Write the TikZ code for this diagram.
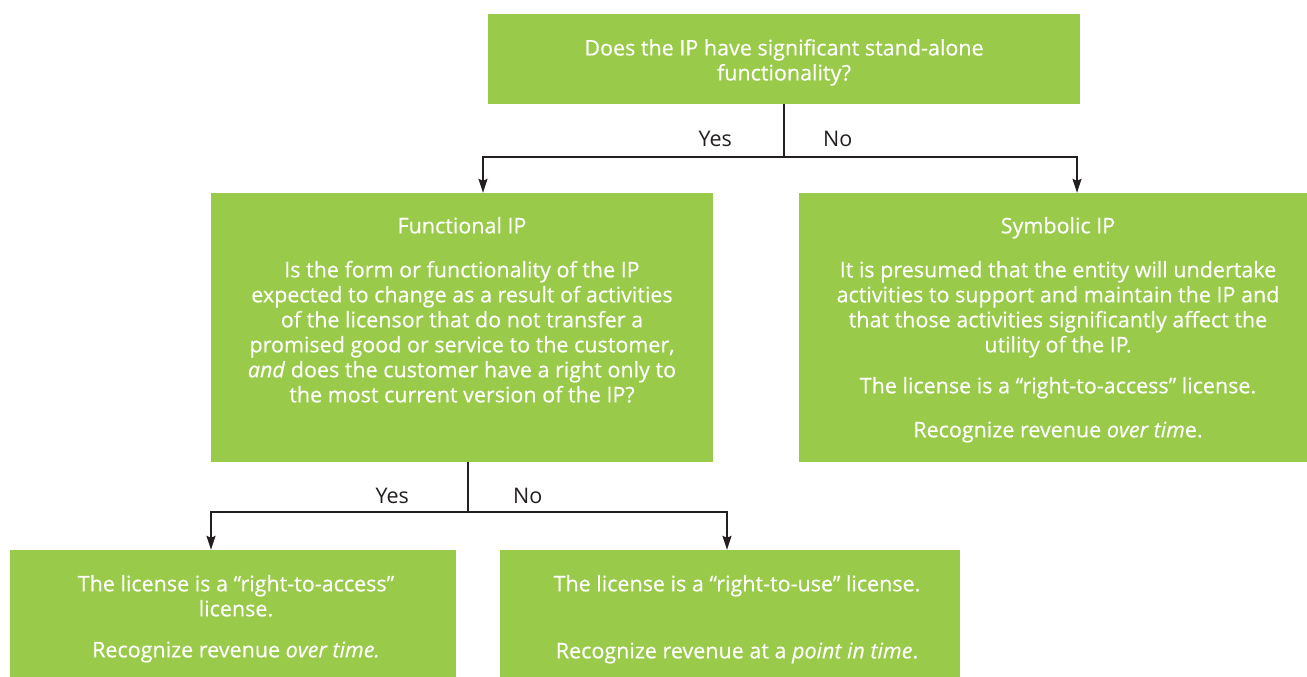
\documentclass[tikz,border=0pt]{standalone}
\usepackage{fontspec}
\setmainfont{Open Sans}
\usepackage{tikz}
\usetikzlibrary{positioning}
\usetikzlibrary{arrows.meta}

\tikzset{
	box/.style={fill=ipgreen, draw=none, inner sep=0pt},
	boxtext/.style={text=white, align=center, inner sep=0pt, font=\fontsize{21.5}{25}\selectfont\addfontfeature{FakeBold=0.4}},
	lbl/.style={text=linegray, inner sep=0pt, font=\fontsize{21.5}{25}\selectfont},
	link/.style={draw=linegray, line width=1.4pt},
	arrow/.style={link, -{Stealth[length=14pt,width=9pt,inset=2pt]}}
}

\begin{document}
\begin{tikzpicture}[x=1pt,y=-1pt]
				\definecolor{ipgreen}{RGB}{153,202,74}
				\definecolor{linegray}{RGB}{35,31,32}
				\useasboundingbox (0,0) rectangle (1307,677);
				
				% top question
				\node[box, minimum width=592pt, minimum height=90pt] (standalone) at (784,59) {};
				\node[boxtext, below=25pt of standalone.north] (standtxt) {Does the IP have significant stand-alone\\functionality?};
				
				% second row
				\node[box, minimum width=502pt, minimum height=269pt] (functional) at (462,327.5) {};
				\node[boxtext, below=24pt of functional.north] (functxt) {Functional IP\\[19pt]
					Is the form or functionality of the IP\\
					expected to change as a result of activities\\
					of the licensor that do not transfer a\\
					promised good or service to the customer,\\
					\textit{and} does the customer have a right only to\\
					the most current version of the IP?};
				
				\node[box, minimum width=508pt, minimum height=269pt] (symbolic) at (1053,327.5) {};
				\node[boxtext, below=24pt of symbolic.north, xshift=5pt] (symtxt) {Symbolic IP\\[19pt]
					It is presumed that the entity will undertake\\
					activities to support and maintain the IP and\\
					that those activities significantly affect the\\
					utility of the IP.\\[16pt]
					The license is a “right-to-access” license.\\[19pt]
					Recognize revenue \textit{over tim}e.};
				
				% bottom row
				\node[box, minimum width=446pt, minimum height=127pt] (access) at (233,613.5) {};
				\node[boxtext, below=25pt of access.north, xshift=3pt] (acctxt) {The license is a “right-to-access”\\
					license.\\[16pt]
					Recognize revenue \textit{over time.}};
				\node[box, minimum width=460pt, minimum height=127pt] (use) at (730,613.5) {};
				\node[boxtext, below=25pt of use.north, xshift=7pt] (usetxt) {The license is a “right-to-use” license.\\[42pt]
					Recognize revenue at a \textit{point in time}.};
				
				% connectors
				\coordinate (split1) at (784,157);
				\coordinate (split2) at (468,512);
				\draw[link] (standalone.south) -- (split1);
				\draw[arrow] (split1) -| ([xshift=21pt]functional.north);
				\draw[arrow] (split1) -| ([xshift=24pt]symbolic.north);
				\draw[link] ([xshift=6pt]functional.south) -- (split2);
				\draw[arrow] (split2) -| ([xshift=-22pt]access.north);
				\draw[arrow] (split2) -| ([xshift=-3pt]use.north);
				
				\node[lbl, anchor=base east, xshift=-52pt, yshift=11pt] (yes1) at (split1) {Yes};
				\node[lbl, anchor=base west, xshift=39pt, yshift=11pt] (no1) at (split1) {No};
				\node[lbl, anchor=base east, xshift=-59pt, yshift=9pt] (yes2) at (split2) {Yes};
				\node[lbl, anchor=base west, xshift=45pt, yshift=9pt] (no2) at (split2) {No};
\end{tikzpicture}
\end{document}
